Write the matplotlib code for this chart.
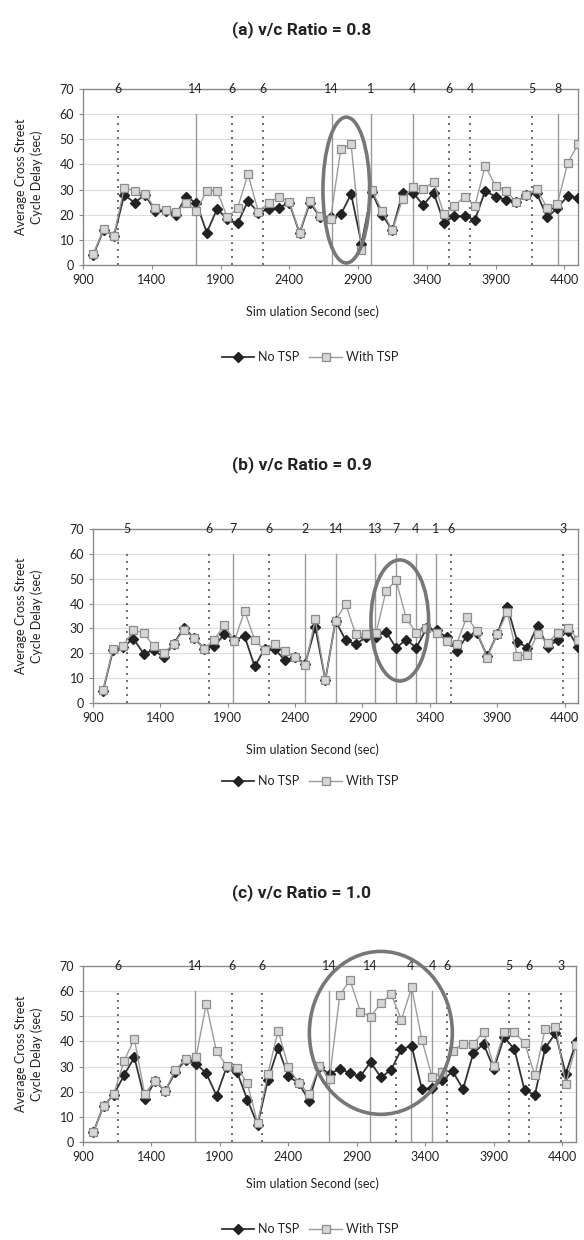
"""Average cross-street cycle delay, with and without TSP, for three v/c ratios."""

import matplotlib

matplotlib.use("Agg")

import matplotlib.pyplot as plt  # noqa: E402
from matplotlib.lines import Line2D  # noqa: E402
from matplotlib.patches import Ellipse  # noqa: E402

plt.rcParams["font.family"] = ["Lato", "DejaVu Sans"]

# End of each signal cycle (simulation seconds), shared by all three runs.
SECONDS = [975, 1050, 1125, 1200, 1275, 1350, 1425, 1500, 1575, 1650, 1725, 1800,
           1875, 1950, 2025, 2100, 2175, 2250, 2325, 2400, 2475, 2550, 2625, 2700,
           2775, 2850, 2925, 3000, 3075, 3150, 3225, 3300, 3375, 3450, 3525, 3600,
           3675, 3750, 3825, 3900, 3975, 4050, 4125, 4200, 4275, 4350, 4425, 4500]

# (a) v/c = 0.8
A_NO_TSP = [4.0, 14.0, 11.5, 27.9, 24.8, 27.9, 21.6, 21.5, 19.9, 27.2, 24.6, 12.9,
            22.3, 18.2, 16.6, 25.5, 20.8, 22.2, 22.8, 24.8, 12.6, 24.8, 19.0, 19.0,
            20.1, 28.2, 8.5, 29.2, 19.9, 13.9, 28.8, 28.8, 23.8, 28.8, 16.9, 19.3,
            19.5, 17.9, 29.5, 27.2, 25.9, 25.0, 27.9, 28.6, 19.0, 22.6, 27.5, 26.6]
A_WITH_TSP = [4.4, 14.3, 11.7, 30.8, 29.5, 28.2, 22.6, 21.9, 21.0, 24.8, 21.6, 29.5,
              29.5, 18.9, 22.8, 36.1, 21.2, 24.6, 27.2, 25.1, 12.9, 25.6, 19.3, 18.2,
              46.2, 48.1, 6.0, 29.9, 21.5, 13.9, 26.3, 30.9, 30.1, 33.2, 20.2, 23.5,
              27.2, 23.5, 39.4, 31.5, 29.6, 25.0, 27.9, 30.1, 22.8, 24.3, 40.5, 48.1]
A_EVENT_SEC = [1152, 1720, 1986, 2207, 2709, 2995, 3298, 3562, 3717, 4163, 4352]
A_EVENT_LABEL = ["6", "14", "6", "6", "14", "1", "4", "6", "4", "5", "8"]
A_EVENT_SOLID = [False, True, False, False, True, True, True, False, False, False, True]
A_CIRCLE = (2815, 29.8, 340, 58)  # centre x, centre y, width, height

# (b) v/c = 0.9
B_NO_TSP = [5.0, 21.5, 22.6, 25.9, 19.9, 21.2, 18.5, 23.9, 30.3, 26.2, 21.9, 22.8,
            27.7, 25.3, 26.9, 14.7, 21.9, 21.6, 17.2, 18.5, 15.8, 30.4, 9.3, 33.1,
            25.3, 23.6, 26.4, 26.6, 28.6, 22.2, 25.5, 22.2, 30.0, 29.3, 26.4, 20.9,
            26.9, 28.2, 18.8, 27.7, 38.8, 24.6, 22.3, 31.1, 22.6, 25.3, 29.1, 22.6]
B_WITH_TSP = [5.4, 21.9, 23.0, 29.3, 28.2, 23.0, 20.1, 23.9, 29.3, 26.2, 21.9, 25.5,
              31.4, 24.9, 37.0, 25.5, 21.2, 23.6, 20.8, 18.5, 15.1, 33.6, 9.3, 33.1,
              39.9, 27.6, 27.7, 28.0, 45.1, 49.3, 34.1, 28.2, 30.0, 28.2, 25.0, 23.9,
              34.7, 28.9, 18.2, 27.7, 36.5, 18.8, 19.5, 27.7, 24.3, 28.2, 30.3, 25.5]
B_EVENT_SEC = [1153, 1762, 1936, 2205, 2473, 2703, 2993, 3149, 3295, 3446, 3558, 4392]
B_EVENT_LABEL = ["5", "6", "7", "6", "2", "14", "13", "7", "4", "1", "6", "3"]
B_EVENT_SOLID = [False, False, True, False, True, True, True, True, True, True, False, False]
B_CIRCLE = (3177, 33.2, 428, 48.7)

# (c) v/c = 1.0
C_NO_TSP = [3.8, 14.4, 18.8, 26.6, 33.7, 17.1, 24.1, 20.4, 27.8, 32.7, 31.1, 27.4,
            18.4, 30.0, 27.8, 16.8, 6.9, 24.7, 37.3, 26.1, 23.4, 16.5, 30.0, 27.0,
            29.1, 27.4, 26.1, 31.8, 25.7, 28.7, 36.9, 38.2, 21.0, 21.4, 24.5, 28.1,
            21.0, 35.3, 39.0, 29.1, 41.7, 36.9, 20.5, 18.8, 37.3, 43.3, 27.1, 39.6]
C_WITH_TSP = [3.8, 14.4, 19.1, 32.3, 41.0, 19.2, 24.3, 20.4, 28.7, 33.1, 33.7, 54.9,
              36.0, 30.3, 29.6, 23.4, 7.5, 27.1, 44.3, 29.8, 23.4, 19.2, 30.3, 25.0,
              58.5, 64.4, 51.9, 49.9, 55.2, 58.8, 48.6, 61.5, 40.6, 25.7, 27.7, 36.3,
              39.0, 39.0, 43.9, 30.4, 43.9, 43.7, 39.3, 26.5, 45.0, 45.9, 23.0, 38.4]
C_EVENT_SEC = [1153, 1717, 1985, 2204, 2696, 2995, 3182, 3294, 3450, 3555, 4012, 4155, 4389]
C_EVENT_LABEL = ["6", "14", "6", "6", "14", "14", "", "4", "4", "6", "5", "6", "3"]
C_EVENT_SOLID = [False, True, False, False, True, True, False, True, True, False,
                 False, False, False]
C_CIRCLE = (3075, 43.4, 1044, 64.8)

TITLES = ["(a) v/c Ratio = 0.8", "(b) v/c Ratio = 0.9", "(c) v/c Ratio = 1.0"]
SERIES_NAMES = ["No TSP", "With TSP"]
Y_TICKS = [0, 10, 20, 30, 40, 50, 60, 70]
X_TICKS = [900, 1400, 1900, 2400, 2900, 3400, 3900, 4400]

TEXT = "#222222"
SPINE = "#8a8a8a"

# pixel layout of each panel: (left, right, top, bottom) of the plot area,
# title y, x-label y, legend y
PANELS_PX = [
    ((83, 578, 89, 265), 30, 312, 357),
    ((93, 578, 529, 703), 465, 750, 781),
    ((83, 576, 966, 1142), 893, 1184, 1229),
]

W, H = 584, 1240


def draw_panel(fig, box, no_tsp, with_tsp, ev_sec, ev_lab, ev_solid, circle,
               title, title_y, xlabel_y, legend_y):
    l, r, t, b = box
    ax = fig.add_axes([l / W, 1 - b / H, (r - l) / W, (b - t) / H])
    ax.set_xlim(900, 4500)
    ax.set_ylim(0, 70)
    ax.set_yticks(Y_TICKS)
    ax.set_xticks(X_TICKS)
    ax.tick_params(colors=SPINE, labelcolor=TEXT, labelsize=9, length=3, width=0.8)
    for s in ax.spines.values():
        s.set_color(SPINE)
        s.set_linewidth(1.0)
    for y in Y_TICKS[1:-1]:
        ax.axhline(y, color="#dcdcdc", lw=0.8, zorder=0)

    for x, lab, solid in zip(ev_sec, ev_lab, ev_solid):
        if solid:
            ax.plot([x, x], [0, 60], color="#9a9a9a", lw=1.0, zorder=1)
        else:
            ax.plot([x, x], [0, 60], color="#555555", lw=1.2,
                    linestyle=(0, (1.2, 3.0)), zorder=1)
        if lab:
            ax.text(x, 70, lab, ha="center", va="center", fontsize=9, color=TEXT,
                    clip_on=False, zorder=5)

    ax.plot(SECONDS, no_tsp, color="#333333", lw=1.3, marker="D", ms=4.6,
            mfc="#222222", mec="#222222", zorder=3)
    ax.plot(SECONDS, with_tsp, color="#9c9c9c", lw=1.0, marker="s", ms=5.8,
            mfc="#d6d6d6", mec="#8c8c8c", mew=0.9, zorder=4)

    cx, cy, cw, chh = circle
    ax.add_patch(Ellipse((cx, cy), cw, chh, fill=False, edgecolor="#777777", lw=2.6,
                         clip_on=False, zorder=6))

    fig.text(302 / W, 1 - title_y / H, title, ha="center", va="center", fontsize=12.5,
             fontweight="bold", color=TEXT, family=["Roboto", "DejaVu Sans"])
    fig.text(312 / W, 1 - xlabel_y / H, "Sim ulation Second (sec)", ha="center",
             va="center", fontsize=9, color=TEXT)
    fig.text(29 / W, 1 - (t + b) / 2 / H, "Average Cross Street\nCycle Delay (sec)",
             ha="center", va="center", rotation=90, fontsize=9, color=TEXT,
             multialignment="center", linespacing=1.25)

    handles = [Line2D([], [], color="#333333", lw=1.3, marker="D", ms=4.6,
                      mfc="#222222", mec="#222222"),
               Line2D([], [], color="#9c9c9c", lw=1.0, marker="s", ms=5.8,
                      mfc="#d6d6d6", mec="#8c8c8c", mew=0.9)]
    fig.legend(handles, SERIES_NAMES, loc="center",
               bbox_to_anchor=(310 / W, 1 - legend_y / H), ncol=2, frameon=False,
               fontsize=9, handlelength=2.6, handletextpad=0.3, columnspacing=0.8,
               labelcolor=TEXT)
    return ax


fig = plt.figure(figsize=(W / 100, H / 100), dpi=100)

series = [
    (A_NO_TSP, A_WITH_TSP, A_EVENT_SEC, A_EVENT_LABEL, A_EVENT_SOLID, A_CIRCLE),
    (B_NO_TSP, B_WITH_TSP, B_EVENT_SEC, B_EVENT_LABEL, B_EVENT_SOLID, B_CIRCLE),
    (C_NO_TSP, C_WITH_TSP, C_EVENT_SEC, C_EVENT_LABEL, C_EVENT_SOLID, C_CIRCLE),
]
for (box, ty, xy, ly), data, title in zip(PANELS_PX, series, TITLES):
    draw_panel(fig, box, *data, title, ty, xy, ly)

fig.savefig("out.png", dpi=100)
plt.close(fig)
